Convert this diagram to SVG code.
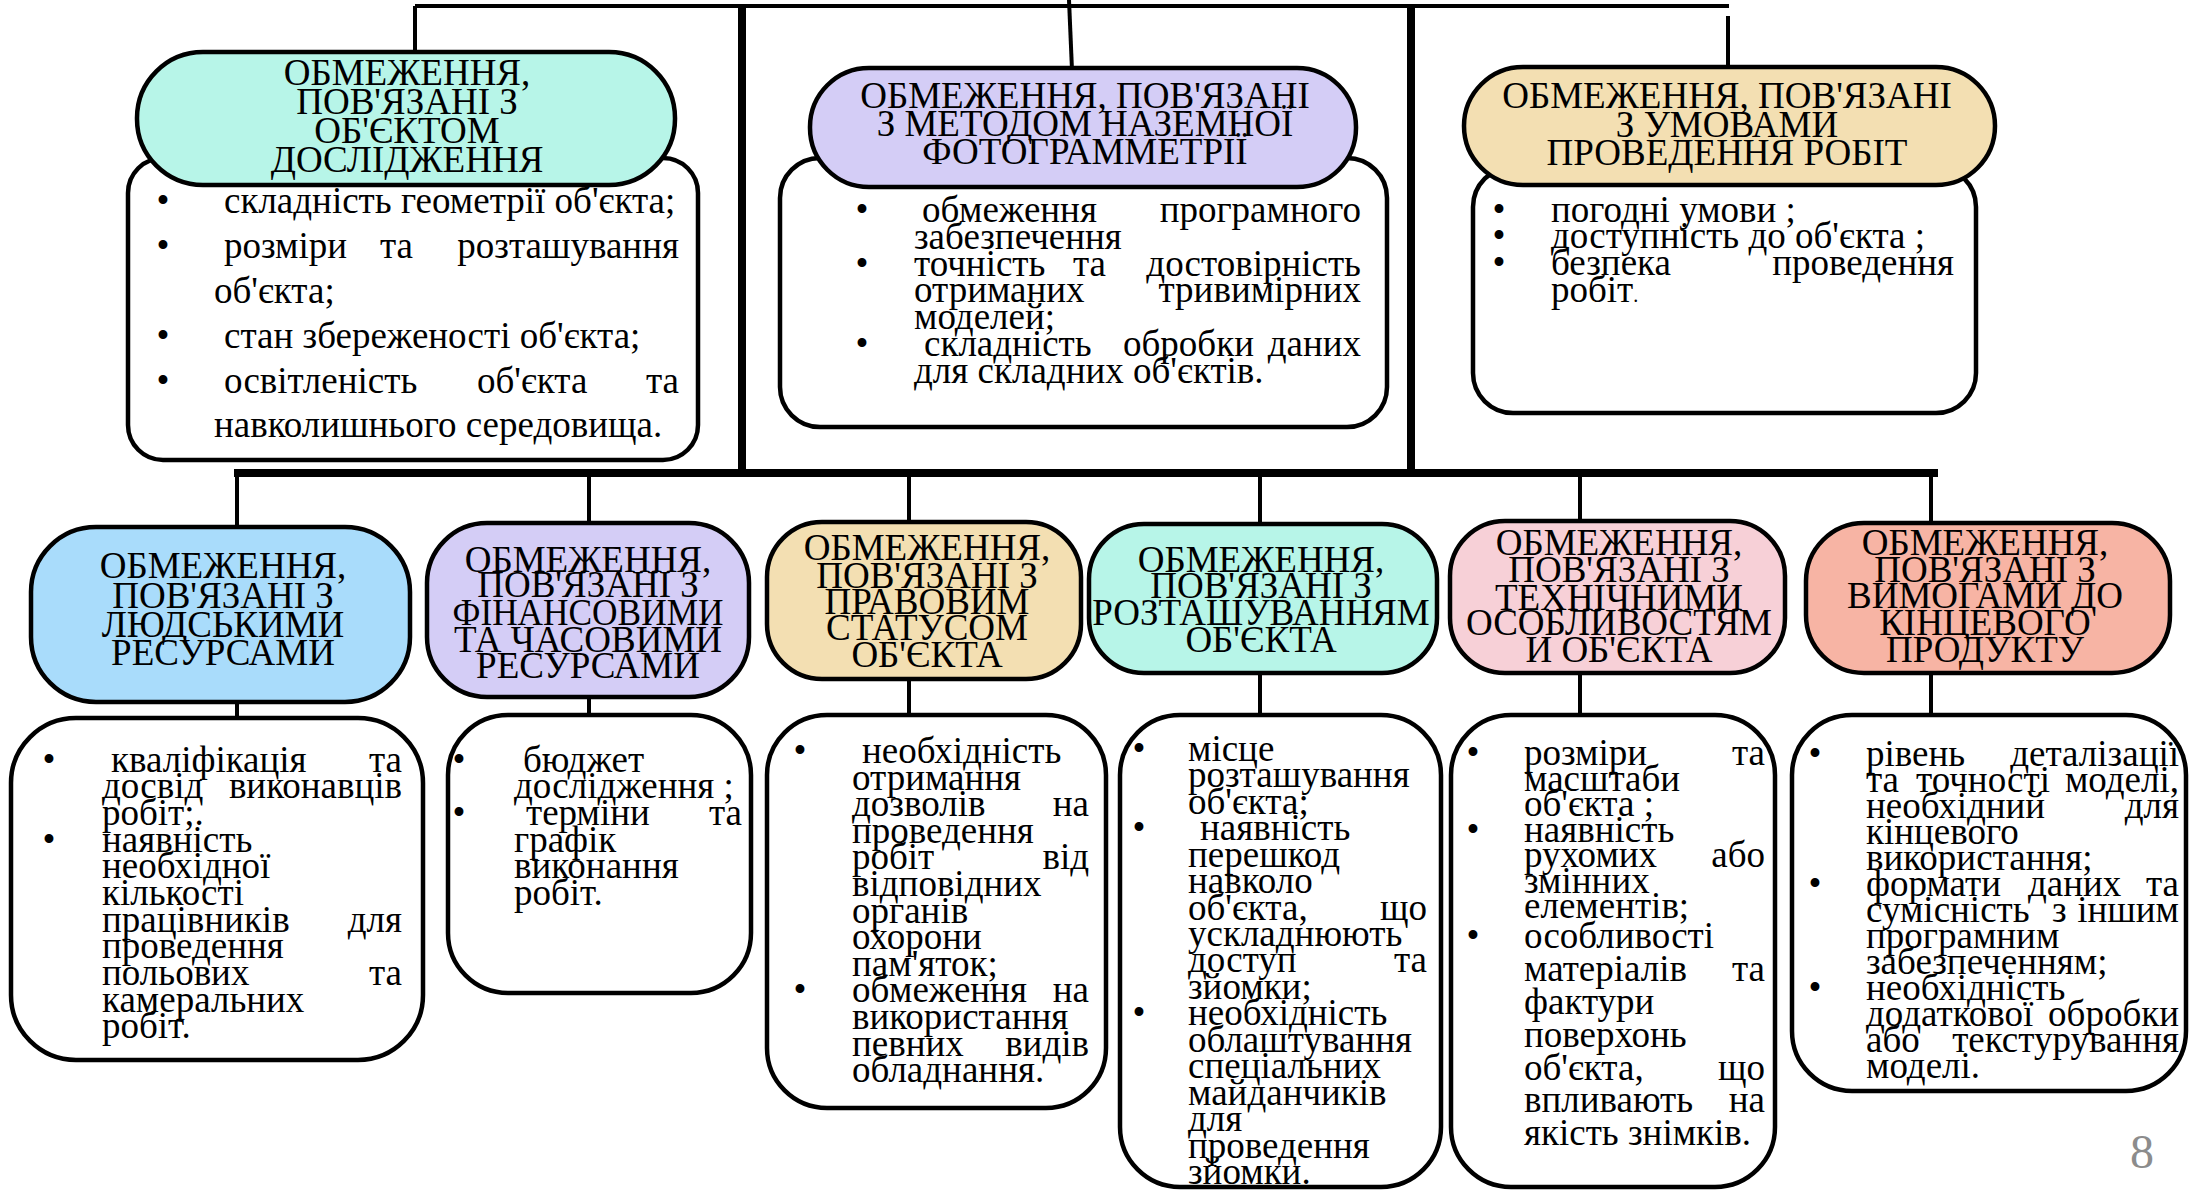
<svg xmlns="http://www.w3.org/2000/svg" width="2190" height="1190" viewBox="0 0 2190 1190">
<style>
text { font-family: "Liberation Serif", "Times New Roman", serif; font-size: 37px; fill: #000; }
.c { text-anchor: middle; }
.r { text-anchor: end; }
.box { fill: #fff; stroke: #000; stroke-width: 4.5; }
.pill { stroke: #000; stroke-width: 4.5; }
.ln { stroke: #000; stroke-width: 4; fill: none; }
.thick { stroke: #000; stroke-width: 8; fill: none; }
.teal { fill: #b7f5e8; }
.lav { fill: #d4cdf6; }
.wheat { fill: #f3dfb2; }
.blue { fill: #a9dcfb; }
.pink { fill: #f7d0d7; }
.salmon { fill: #f7b4a4; }
.pg { fill: #8c8c8c; font-size: 48px; }
</style>
<rect width="2190" height="1190" fill="#fff"/>

<g id="connectors">
  <path class="ln" d="M415 6 H1729"/>
  <path class="ln" d="M415 6 V54"/>
  <path class="ln" d="M1069 0 L1072 70"/>
  <path class="ln" d="M1728 16 V69"/>
  <path class="thick" d="M742 4 V477"/>
  <path class="thick" d="M1411 4 V477"/>
  <path class="thick" d="M234 473 H1938"/>
  <path class="ln" d="M237 473 V720"/>
  <path class="ln" d="M589 473 V717"/>
  <path class="ln" d="M909 473 V717"/>
  <path class="ln" d="M1260 473 V717"/>
  <path class="ln" d="M1580 473 V717"/>
  <path class="ln" d="M1931 473 V717"/>
</g>

<g id="node-object">
  <rect class="box" x="128" y="158" width="570" height="302" rx="35"/>
  <rect class="pill teal" x="137" y="52" width="538" height="133" rx="66"/>
  <text class="c" x="407" y="85">ОБМЕЖЕННЯ,</text>
  <text class="c" x="407" y="114">ПОВ'ЯЗАНІ З</text>
  <text class="c" x="407" y="143">ОБ'ЄКТОМ</text>
  <text class="c" x="407" y="172">ДОСЛІДЖЕННЯ</text>
  <text class="c" x="163" y="213">•</text>
  <text class="c" x="163" y="258">•</text>
  <text class="c" x="163" y="348">•</text>
  <text class="c" x="163" y="393">•</text>
  <text x="224" y="213">складність геометрії об'єкта;</text>
  <text x="224" y="258">розміри</text><text x="380" y="258">та</text><text class="r" x="679" y="258">розташування</text>
  <text x="214" y="303">об'єкта;</text>
  <text x="224" y="348">стан збереженості об'єкта;</text>
  <text x="224" y="393">освітленість</text><text x="477" y="393">об'єкта</text><text class="r" x="679" y="393">та</text>
  <text x="214" y="437">навколишнього середовища.</text>
</g>

<g id="node-method">
  <rect class="box" x="780" y="158" width="607" height="269" rx="40"/>
  <rect class="pill lav" x="810" y="68" width="546" height="119" rx="59"/>
  <text class="c" x="1085" y="108">ОБМЕЖЕННЯ, ПОВ'ЯЗАНІ</text>
  <text class="c" x="1085" y="136">З МЕТОДОМ НАЗЕМНОЇ</text>
  <text class="c" x="1085" y="164">ФОТОГРАММЕТРІЇ</text>
  <text class="c" x="862" y="222">•</text>
  <text class="c" x="862" y="276">•</text>
  <text class="c" x="862" y="356">•</text>
  <text x="922" y="222">обмеження</text><text class="r" x="1361" y="222">програмного</text>
  <text x="914" y="249">забезпечення</text>
  <text x="914" y="276">точність</text><text x="1073" y="276">та</text><text class="r" x="1361" y="276">достовірність</text>
  <text x="914" y="302">отриманих</text><text class="r" x="1361" y="302">тривимірних</text>
  <text x="914" y="329">моделей;</text>
  <text x="924" y="356">складність</text><text x="1123" y="356">обробки</text><text class="r" x="1361" y="356">даних</text>
  <text x="914" y="383">для складних об'єктів.</text>
</g>

<g id="node-conditions">
  <rect class="box" x="1473" y="167" width="503" height="246" rx="40"/>
  <rect class="pill wheat" x="1464" y="67" width="531" height="118" rx="59"/>
  <text class="c" x="1727" y="108">ОБМЕЖЕННЯ, ПОВ'ЯЗАНІ</text>
  <text class="c" x="1727" y="137">З УМОВАМИ</text>
  <text class="c" x="1727" y="165">ПРОВЕДЕННЯ РОБІТ</text>
  <text class="c" x="1499" y="222">•</text>
  <text class="c" x="1499" y="248">•</text>
  <text class="c" x="1499" y="275">•</text>
  <text x="1551" y="222">погодні умови ;</text>
  <text x="1551" y="248">доступність до об'єкта ;</text>
  <text x="1551" y="275">безпека</text><text class="r" x="1954" y="275">проведення</text>
  <text x="1551" y="302">робіт<tspan font-size="20">.</tspan></text>
</g>

<g id="node-human">
  <rect class="box" x="11" y="718" width="412" height="342" rx="65"/>
  <rect class="pill blue" x="31" y="527" width="379" height="175" rx="65"/>
  <text class="c" x="223" y="578">ОБМЕЖЕННЯ,</text>
  <text class="c" x="223" y="608">ПОВ'ЯЗАНІ З</text>
  <text class="c" x="223" y="637">ЛЮДСЬКИМИ</text>
  <text class="c" x="223" y="665">РЕСУРСАМИ</text>
  <text class="c" x="49" y="772">•</text>
  <text class="c" x="49" y="852">•</text>
  <text x="111" y="772">кваліфікація</text><text class="r" x="402" y="772">та</text>
  <text x="102" y="798">досвід</text><text class="r" x="402" y="798">виконавців</text>
  <text x="102" y="825">робіт;.</text>
  <text x="102" y="852">наявність</text>
  <text x="102" y="878">необхідної</text>
  <text x="102" y="905">кількості</text>
  <text x="102" y="932">працівників</text><text class="r" x="402" y="932">для</text>
  <text x="102" y="958">проведення</text>
  <text x="102" y="985">польових</text><text class="r" x="402" y="985">та</text>
  <text x="102" y="1012">камеральних</text>
  <text x="102" y="1038">робіт.</text>
</g>

<g id="node-finance">
  <rect class="box" x="448" y="715" width="303" height="278" rx="60"/>
  <rect class="pill lav" x="427" y="523" width="322" height="174" rx="60"/>
  <text class="c" x="588" y="572">ОБМЕЖЕННЯ,</text>
  <text class="c" x="588" y="597">ПОВ'ЯЗАНІ З</text>
  <text class="c" x="588" y="625" textLength="271" lengthAdjust="spacingAndGlyphs">ФІНАНСОВИМИ</text>
  <text class="c" x="588" y="652">ТА ЧАСОВИМИ</text>
  <text class="c" x="588" y="678">РЕСУРСАМИ</text>
  <text class="c" x="459" y="772">•</text>
  <text class="c" x="459" y="825">•</text>
  <text x="523" y="772">бюджет</text>
  <text x="514" y="798">дослідження ;</text>
  <text x="526" y="825">терміни</text><text class="r" x="742" y="825">та</text>
  <text x="514" y="852">графік</text>
  <text x="514" y="878">виконання</text>
  <text x="514" y="905">робіт.</text>
</g>

<g id="node-legal">
  <rect class="box" x="767" y="715" width="339" height="393" rx="60"/>
  <rect class="pill wheat" x="767" y="522" width="314" height="157" rx="55"/>
  <text class="c" x="927" y="560">ОБМЕЖЕННЯ,</text>
  <text class="c" x="927" y="588">ПОВ'ЯЗАНІ З</text>
  <text class="c" x="927" y="614">ПРАВОВИМ</text>
  <text class="c" x="927" y="640">СТАТУСОМ</text>
  <text class="c" x="927" y="667">ОБ'ЄКТА</text>
  <text class="c" x="800" y="763">•</text>
  <text class="c" x="800" y="1002">•</text>
  <text x="862" y="763">необхідність</text>
  <text x="852" y="790">отримання</text>
  <text x="852" y="816">дозволів</text><text class="r" x="1089" y="816">на</text>
  <text x="852" y="843">проведення</text>
  <text x="852" y="869">робіт</text><text class="r" x="1089" y="869">від</text>
  <text x="852" y="896">відповідних</text>
  <text x="852" y="923">органів</text>
  <text x="852" y="949">охорони</text>
  <text x="852" y="976">пам'яток;</text>
  <text x="852" y="1002">обмеження</text><text class="r" x="1089" y="1002">на</text>
  <text x="852" y="1029">використання</text>
  <text x="852" y="1056">певних</text><text class="r" x="1089" y="1056">видів</text>
  <text x="852" y="1082">обладнання.</text>
</g>

<g id="node-location">
  <rect class="box" x="1120" y="715" width="321" height="472" rx="60"/>
  <rect class="pill teal" x="1089" y="524" width="348" height="149" rx="55"/>
  <text class="c" x="1261" y="572">ОБМЕЖЕННЯ,</text>
  <text class="c" x="1261" y="598">ПОВ'ЯЗАНІ З</text>
  <text class="c" x="1261" y="625">РОЗТАШУВАННЯМ</text>
  <text class="c" x="1261" y="652">ОБ'ЄКТА</text>
  <text class="c" x="1139" y="761">•</text>
  <text class="c" x="1139" y="840">•</text>
  <text class="c" x="1139" y="1025">•</text>
  <text x="1188" y="761">місце</text>
  <text x="1188" y="787">розташування</text>
  <text x="1188" y="814">об'єкта;</text>
  <text x="1200" y="840">наявність</text>
  <text x="1188" y="867">перешкод</text>
  <text x="1188" y="893">навколо</text>
  <text x="1188" y="920">об'єкта,</text><text class="r" x="1427" y="920">що</text>
  <text x="1188" y="946">ускладнюють</text>
  <text x="1188" y="972">доступ</text><text class="r" x="1427" y="972">та</text>
  <text x="1188" y="999">зйомки;</text>
  <text x="1188" y="1025">необхідність</text>
  <text x="1188" y="1052">облаштування</text>
  <text x="1188" y="1078">спеціальних</text>
  <text x="1188" y="1105">майданчиків</text>
  <text x="1188" y="1131">для</text>
  <text x="1188" y="1158">проведення</text>
  <text x="1188" y="1184">зйомки.</text>
</g>

<g id="node-technical">
  <rect class="box" x="1451" y="715" width="324" height="472" rx="60"/>
  <rect class="pill pink" x="1450" y="521" width="335" height="152" rx="55"/>
  <text class="c" x="1619" y="555">ОБМЕЖЕННЯ,</text>
  <text class="c" x="1619" y="582">ПОВ'ЯЗАНІ З</text>
  <text class="c" x="1619" y="610">ТЕХНІЧНИМИ</text>
  <text class="c" x="1619" y="635">ОСОБЛИВОСТЯМ</text>
  <text class="c" x="1619" y="662">И ОБ'ЄКТА</text>
  <text class="c" x="1473" y="765">•</text>
  <text class="c" x="1473" y="842">•</text>
  <text class="c" x="1473" y="948">•</text>
  <text x="1524" y="765">розміри</text><text class="r" x="1765" y="765">та</text>
  <text x="1524" y="791">масштаби</text>
  <text x="1524" y="816">об'єкта ;</text>
  <text x="1524" y="842">наявність</text>
  <text x="1524" y="867">рухомих</text><text class="r" x="1765" y="867">або</text>
  <text x="1524" y="893">змінних</text>
  <text x="1524" y="918">елементів;</text>
  <text x="1524" y="948">особливості</text>
  <text x="1524" y="981">матеріалів</text><text class="r" x="1765" y="981">та</text>
  <text x="1524" y="1014">фактури</text>
  <text x="1524" y="1047">поверхонь</text>
  <text x="1524" y="1080">об'єкта,</text><text class="r" x="1765" y="1080">що</text>
  <text x="1524" y="1112">впливають</text><text class="r" x="1765" y="1112">на</text>
  <text x="1524" y="1145">якість знімків.</text>
</g>

<g id="node-product">
  <rect class="box" x="1792" y="715" width="394" height="376" rx="60"/>
  <rect class="pill salmon" x="1806" y="523" width="364" height="150" rx="58"/>
  <text class="c" x="1985" y="555">ОБМЕЖЕННЯ,</text>
  <text class="c" x="1985" y="582">ПОВ'ЯЗАНІ З</text>
  <text class="c" x="1985" y="608">ВИМОГАМИ ДО</text>
  <text class="c" x="1985" y="635">КІНЦЕВОГО</text>
  <text class="c" x="1985" y="662">ПРОДУКТУ</text>
  <text class="c" x="1815" y="766">•</text>
  <text class="c" x="1815" y="896">•</text>
  <text class="c" x="1815" y="1000">•</text>
  <text x="1866" y="766">рівень</text><text class="r" x="2179" y="766">деталізації</text>
  <text x="1866" y="792">та</text><text x="1916" y="792">точності</text><text class="r" x="2179" y="792">моделі,</text>
  <text x="1866" y="818">необхідний</text><text class="r" x="2179" y="818">для</text>
  <text x="1866" y="844">кінцевого</text>
  <text x="1866" y="870">використання;</text>
  <text x="1866" y="896">формати</text><text x="2028" y="896">даних</text><text class="r" x="2179" y="896">та</text>
  <text x="1866" y="922">сумісність</text><text x="2052" y="922">з</text><text class="r" x="2179" y="922">іншим</text>
  <text x="1866" y="948">програмним</text>
  <text x="1866" y="974">забезпеченням;</text>
  <text x="1866" y="1000">необхідність</text>
  <text x="1866" y="1026">додаткової</text><text class="r" x="2179" y="1026">обробки</text>
  <text x="1866" y="1052">або</text><text class="r" x="2179" y="1052">текстурування</text>
  <text x="1866" y="1078">моделі.</text>
</g>

<text class="c pg" x="2142" y="1168">8</text>
</svg>
